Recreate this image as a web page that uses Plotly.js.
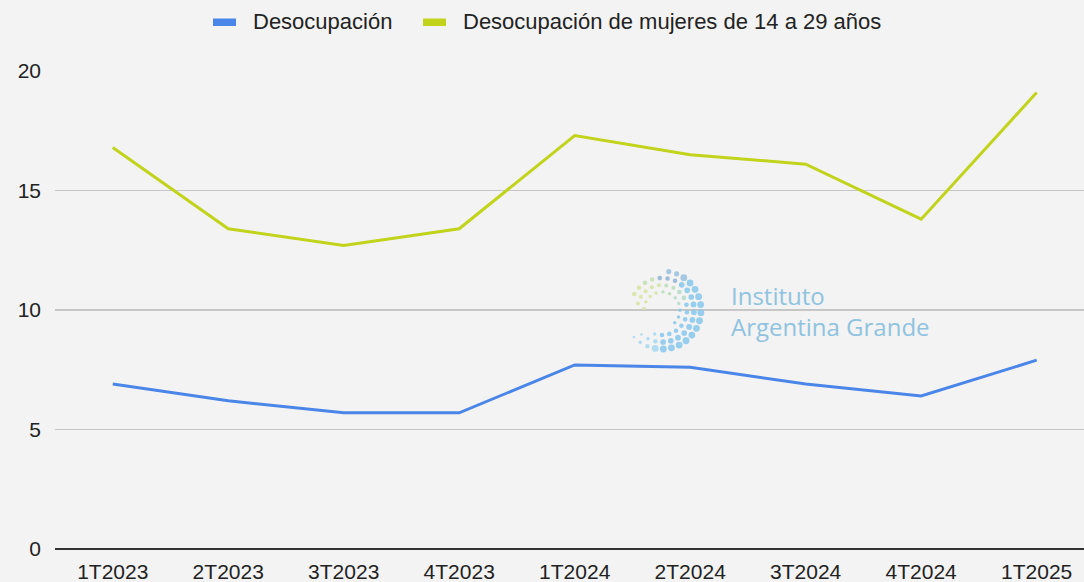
<!DOCTYPE html>
<html>
<head>
<meta charset="utf-8">
<script src="https://cdn.plot.ly/plotly-3.0.1.min.js"></script>
<style>html,body{margin:0;padding:0;background:#f3f3f3;}#chart{width:1084px;height:582px;}</style>
</head>
<body>
<div id="chart"></div>
<script>
// ---- data ----
var categories = ["1T2023","2T2023","3T2023","4T2023","1T2024","2T2024","3T2024","4T2024","1T2025"];
var desocupacion = [6.9, 6.2, 5.7, 5.7, 7.7, 7.6, 6.9, 6.4, 7.9];
var desocupacionMujeres = [16.8, 13.4, 12.7, 13.4, 17.3, 16.5, 16.1, 13.8, 19.1];
var seriesNames = ["Desocupación", "Desocupación de mujeres de 14 a 29 años"];
var yTicks = [0, 5, 10, 15, 20];
var watermarkText = "Instituto<br>Argentina Grande";

var W = 1084, H = 582;
var M = {l: 55, r: 0, t: 71, b: 33};
var BLUE = '#4a86e8', GREEN = '#c1d31b';
var FONT = '"Liberation Sans", Arial, sans-serif';

function px(x){ return (x - M.l) / (W - M.l - M.r); }
function py(y){ return (H - M.b - y) / (H - M.t - M.b); }

var traces = [
  {x: categories, y: desocupacion, type: 'scatter', mode: 'lines', name: seriesNames[0],
   line: {color: BLUE, width: 3}, hoverinfo: 'skip'},
  {x: categories, y: desocupacionMujeres, type: 'scatter', mode: 'lines', name: seriesNames[1],
   line: {color: GREEN, width: 3}, hoverinfo: 'skip'}
];

var shapes = [];
var annotations = [];

// custom legend
function legendItem(sx, tx, color, text){
  shapes.push({type: 'rect', xref: 'paper', yref: 'paper', x0: px(sx), x1: px(sx + 23), y0: py(26), y1: py(18.5),
    fillcolor: color, line: {width: 0}, layer: 'above'});
  annotations.push({xref: 'paper', yref: 'paper', x: px(tx), y: py(21), xanchor: 'left', yanchor: 'middle',
    text: text, showarrow: false, font: {family: FONT, size: 22, color: '#222'}});
}
legendItem(213, 251, BLUE, seriesNames[0]);
legendItem(423, 461, GREEN, seriesNames[1]);

// watermark logo (decorative dots)
var cx = 662, cy = 310;
var rings = [
  {r: 39, a0: 80, a1: -146, step: 12, ring: 0},
  {r: 32, a0: 150, a1: -138, step: 14, ring: 1},
  {r: 25, a0: 165, a1: -110, step: 17, ring: 2},
  {r: 18, a0: 175, a1: -60, step: 22, ring: 3}
];
function dotColor(a, ring){
  if (a > 125) return '#d6e49c';
  if (a > 95) return ring >= 2 ? '#cfe3a2' : '#c2dfb0';
  if (a > 55) return ring === 1 ? '#8fb1d2' : (ring >= 2 ? '#b8dcb6' : '#97bfdc');
  if (a > 20 && ring >= 2) return '#b2d9c6';
  if (a > -95) return '#86c7ec';
  return '#a6d7f1';
}
rings.forEach(function(rg){
  for (var a = rg.a0; a >= rg.a1; a -= rg.step){
    var rad = a * Math.PI / 180;
    var x = cx + rg.r * Math.cos(rad), y = cy - rg.r * Math.sin(rad);
    var s;
    if (a <= 60 && a >= -100) s = 3.4 - rg.ring * 0.55;
    else if (a > 60) s = 2.6 - rg.ring * 0.3;
    else s = 2.6 - (-100 - a) / 30 - rg.ring * 0.3;
    if (s < 1.1) s = 1.1;
    shapes.push({type: 'circle', xref: 'paper', yref: 'paper', xsizemode: 'pixel', ysizemode: 'pixel',
      xanchor: px(x), yanchor: py(y), x0: -s, x1: s, y0: -s, y1: s,
      fillcolor: dotColor(a, rg.ring), line: {width: 0}, opacity: 0.85, layer: 'above'});
  }
});
annotations.push({xref: 'paper', yref: 'paper', x: px(729), y: py(311), xanchor: 'left', yanchor: 'middle', align: 'left',
  text: watermarkText, showarrow: false, font: {family: '"Open Sans", sans-serif', size: 24, color: '#8fc3e0'}});

var layout = {
  width: W, height: H,
  margin: {l: M.l, r: M.r, t: M.t, b: M.b, pad: 0},
  paper_bgcolor: '#f3f3f3', plot_bgcolor: '#f3f3f3',
  showlegend: false,
  font: {family: FONT, color: '#222'},
  xaxis: {type: 'category', range: [-0.5, 8.41], showgrid: false, zeroline: false, showline: false,
    ticks: '', tickfont: {family: FONT, size: 21, color: '#222'}, ticklabelstandoff: 8, fixedrange: true},
  yaxis: {range: [0, 20], tickvals: yTicks, ticktext: yTicks.map(String), showgrid: true,
    gridcolor: '#c6c6c6', gridwidth: 1.2, zeroline: true, zerolinecolor: '#333', zerolinewidth: 1.8,
    showline: false, ticks: '', tickfont: {family: FONT, size: 21, color: '#222'}, ticklabelstandoff: 13, fixedrange: true},
  shapes: shapes,
  annotations: annotations
};

Plotly.newPlot('chart', traces, layout, {staticPlot: true, displayModeBar: false});
</script>
</body>
</html>
